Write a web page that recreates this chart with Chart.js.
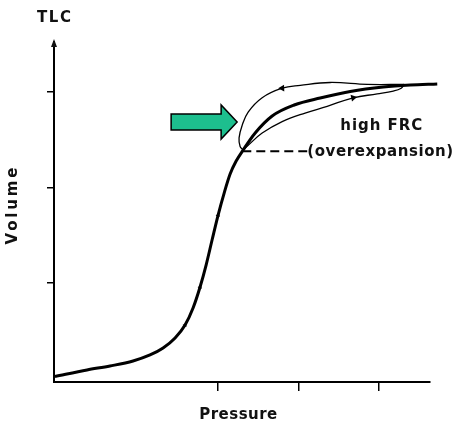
<!DOCTYPE html>
<html>
<head>
<meta charset="utf-8">
<script src="https://cdn.jsdelivr.net/npm/chart.js@4/dist/chart.umd.min.js"></script>
<style>
  html, body { margin: 0; padding: 0; background: #fff; }
  #c { display: block; }
</style>
</head>
<body>
<canvas id="c" width="456" height="433"></canvas>
<script>
// ---- data (arbitrary units: pressure on x, volume on y) ----
const mainX = [-0.25, 3.73, 6.58, 9.44, 11.55, 13.17, 14.66, 15.9, 16.89, 17.76, 18.51, 19.25, 20.0, 20.75, 21.49, 22.24, 23.11, 24.6, 26.71, 29.44, 32.67, 36.4, 40.5, 43.85, 47.2];
const mainY = [0.021, 0.089, 0.131, 0.183, 0.246, 0.319, 0.424, 0.56, 0.738, 0.958, 1.188, 1.45, 1.712, 1.942, 2.141, 2.277, 2.393, 2.571, 2.749, 2.864, 2.937, 3.005, 3.052, 3.073, 3.084];

// deflation limb of the high-FRC loop (drawn right to left)
const upperX = [43.1, 38.5, 33.9, 30.2, 27.95, 25.47, 23.73, 22.98, 22.6, 22.73, 23.11];
const upperY = [3.08, 3.08, 3.10, 3.07, 3.04, 2.94, 2.79, 2.65, 2.52, 2.43, 2.393];

// inflation limb of the loop
const lowerX = [23.11, 23.7, 25.47, 27.95, 30.8, 33.54, 36.77, 39.75, 41.74, 42.73, 43.1];
const lowerY = [2.393, 2.44, 2.57, 2.69, 2.78, 2.85, 2.94, 2.98, 3.01, 3.04, 3.08];

// high FRC marker (dashed leader)
const frcX = [23.0, 31.06];
const frcY = [2.38, 2.38];

// direction arrowheads along the curves
const arrowX = [27.95, 36.77, 20.0, 17.76, 15.9];
const arrowY = [3.04, 2.94, 1.712, 0.958, 0.56];
const arrowRot = [-92, 78, 14, 16, 28];
const arrowSize = [4, 4, 2.5, 2.5, 2.5];

// tick values
const xTicks = [20, 30, 40];
const yTicks = [1, 2, 3];

// text
const yTitle = 'Volume';
const xTitle = 'Pressure';
const topLabel = 'TLC';
const noteText = ['high FRC', '(overexpansion)'];
const noteX = [40.25, 40.12];
const noteY = [2.644, 2.366];
const pointerTip = {x: 22.36, y: 2.686};

const toPts = (xs, ys) => xs.map((x, i) => ({x: x, y: ys[i]}));

function fitText(ctx, text, cx, cy, width) {
  ctx.save();
  ctx.letterSpacing = '0px';
  const w0 = ctx.measureText(text).width;
  const sp = text.length > 1 ? (width - w0) / (text.length - 1) : 0;
  ctx.letterSpacing = sp + 'px';
  ctx.textAlign = 'left';
  ctx.textBaseline = 'middle';
  ctx.fillText(text, cx - width / 2, cy);
  ctx.restore();
}

const decor = {
  id: 'decor',
  afterDraw(chart) {
    const ctx = chart.ctx;
    const xs = chart.scales.x, ys = chart.scales.y;
    const ca = chart.chartArea;
    ctx.save();
    ctx.fillStyle = '#111';
    ctx.font = 'bold 15px "DejaVu Sans"';
    // axis arrow tip on y axis
    ctx.beginPath();
    ctx.moveTo(ca.left, ca.top - 3);
    ctx.lineTo(ca.left - 3, ca.top + 5);
    ctx.lineTo(ca.left + 3, ca.top + 5);
    ctx.closePath();
    ctx.fill();
    // titles
    fitText(ctx, topLabel, ca.left, ca.top - 24, 34);
    fitText(ctx, xTitle, xs.getPixelForValue(22.5), ca.bottom + 33, 78);
    ctx.save();
    ctx.translate(13, 206);
    ctx.rotate(-Math.PI / 2);
    fitText(ctx, yTitle, 0, 0, 77);
    ctx.restore();
    // notes
    fitText(ctx, noteText[0], xs.getPixelForValue(noteX[0]), ys.getPixelForValue(noteY[0]), 82);
    fitText(ctx, noteText[1], xs.getPixelForValue(noteX[1]), ys.getPixelForValue(noteY[1]), 146);
    // green pointer arrow
    const tx = xs.getPixelForValue(pointerTip.x), ty = ys.getPixelForValue(pointerTip.y);
    ctx.beginPath();
    ctx.moveTo(tx, ty);
    ctx.lineTo(tx - 16, ty - 17);
    ctx.lineTo(tx - 16, ty - 8);
    ctx.lineTo(tx - 66, ty - 8);
    ctx.lineTo(tx - 66, ty + 8);
    ctx.lineTo(tx - 16, ty + 8);
    ctx.lineTo(tx - 16, ty + 17);
    ctx.closePath();
    ctx.fillStyle = '#1dbf8e';
    ctx.fill();
    ctx.lineWidth = 1.5;
    ctx.strokeStyle = '#000';
    ctx.stroke();
    ctx.restore();
  }
};

const common = {showLine: true, pointRadius: 0, borderColor: '#000', clip: false, fill: false};

new Chart(document.getElementById('c'), {
  type: 'scatter',
  data: {
    datasets: [
      Object.assign({}, common, {data: toPts(mainX, mainY), borderWidth: 3, cubicInterpolationMode: 'monotone'}),
      Object.assign({}, common, {data: toPts(upperX, upperY), borderWidth: 1.3, tension: 0.4}),
      Object.assign({}, common, {data: toPts(lowerX, lowerY), borderWidth: 1.3, tension: 0.4}),
      Object.assign({}, common, {data: toPts(frcX, frcY), borderWidth: 2, borderDash: [9, 5]}),
      {
        data: toPts(arrowX, arrowY), showLine: false, clip: false,
        pointStyle: 'triangle', pointRadius: arrowSize, rotation: arrowRot,
        backgroundColor: '#000', borderColor: '#000', borderWidth: 0
      }
    ]
  },
  options: {
    responsive: false,
    animation: false,
    events: [],
    layout: {padding: {top: 42, right: 26, left: 0, bottom: 0}},
    plugins: {legend: {display: false}, tooltip: {enabled: false}},
    scales: {
      x: {
        type: 'linear', min: -0.37, max: 46.3,
        afterFit: s => { s.height = 51; },
        afterBuildTicks: s => { s.ticks = xTicks.map(v => ({value: v})); },
        ticks: {display: false},
        grid: {drawOnChartArea: false, drawTicks: true, tickLength: 9, color: '#000', lineWidth: 1.5},
        border: {display: true, color: '#000', width: 2}
      },
      y: {
        type: 'linear', min: -0.037, max: 3.524,
        afterFit: s => { s.width = 54; },
        afterBuildTicks: s => { s.ticks = yTicks.map(v => ({value: v})); },
        ticks: {display: false},
        grid: {drawOnChartArea: false, drawTicks: true, tickLength: 7, color: '#000', lineWidth: 1.5},
        border: {display: true, color: '#000', width: 2}
      }
    }
  },
  plugins: [decor]
});
</script>
</body>
</html>
